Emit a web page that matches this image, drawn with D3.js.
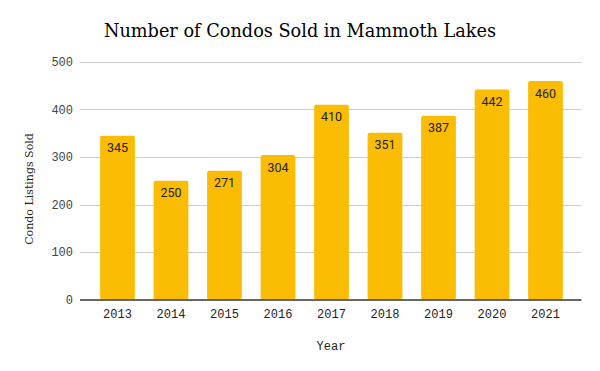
<!DOCTYPE html>
<html><head><meta charset="utf-8">
<script src="https://cdn.jsdelivr.net/npm/d3@7"></script>
<style>body{margin:0;background:#fff}</style>
</head><body>
<svg id="c" width="600" height="371"></svg>
<script>
const years = ["2013","2014","2015","2016","2017","2018","2019","2020","2021"];
const sold = [345,250,271,304,410,351,387,442,460];
const yTicks = [0,100,200,300,400,500];

const svg = d3.select("#c");
svg.append("rect").attr("width",600).attr("height",371).attr("fill","#fff");

const x = d3.scaleBand().domain(years).range([90.75,572.25]).paddingInner(0.35).paddingOuter(0.175);
const y = d3.scaleLinear().domain([0,500]).range([299.5,62]);

const tickFont = "'Liberation Mono', monospace";

// gridlines
svg.append("g").selectAll("line").data(yTicks.filter(d=>d>0)).join("line")
  .attr("x1",80).attr("x2",581.5)
  .attr("y1",d=>Math.round(y(d))+0.5).attr("y2",d=>Math.round(y(d))+0.5)
  .attr("stroke","#cccccc").attr("stroke-width",1);

// y tick labels
svg.append("g").selectAll("text").data(yTicks).join("text")
  .attr("x",73).attr("y",d=>y(d)+4)
  .attr("text-anchor","end").attr("font-family",tickFont).attr("font-size",12)
  .attr("fill","#444").text(d=>d);

// bars
svg.append("g").selectAll("rect").data(years).join("rect")
  .attr("x",d=>x(d)).attr("width",x.bandwidth())
  .attr("y",(d,i)=>y(sold[i])).attr("height",(d,i)=>y(0)-y(sold[i]))
  .attr("rx",2).attr("fill","#fbbc04");

// baseline
svg.append("line").attr("x1",80).attr("x2",581.5).attr("y1",300).attr("y2",300)
  .attr("stroke","#333").attr("stroke-width",1.3);

// value labels
svg.append("g").selectAll("text").data(years).join("text")
  .attr("x",d=>x(d)+x.bandwidth()/2).attr("y",(d,i)=>y(sold[i])+16.5)
  .attr("text-anchor","middle").attr("font-family","Roboto, sans-serif").attr("font-size",12.5)
  .attr("fill","#222").text((d,i)=>sold[i]);

// x tick labels
svg.append("g").selectAll("text").data(years).join("text")
  .attr("x",d=>x(d)+x.bandwidth()/2).attr("y",318)
  .attr("text-anchor","middle").attr("font-family",tickFont).attr("font-size",12)
  .attr("fill","#222").text(d=>d);

// title
svg.append("text").attr("x",300).attr("y",37).attr("text-anchor","middle")
  .attr("font-family","'DejaVu Serif', serif").attr("font-size",17.7).attr("fill","#000")
  .text("Number of Condos Sold in Mammoth Lakes");

// axis titles
svg.append("text").attr("x",331).attr("y",350).attr("text-anchor","middle")
  .attr("font-family",tickFont).attr("font-size",12).attr("fill","#222").text("Year");
svg.append("text").attr("transform","translate(32.5,189) rotate(-90)").attr("text-anchor","middle")
  .attr("font-family","'DejaVu Serif', serif").attr("font-size",11).attr("fill","#222")
  .text("Condo Listings Sold");
</script>
</body></html>
